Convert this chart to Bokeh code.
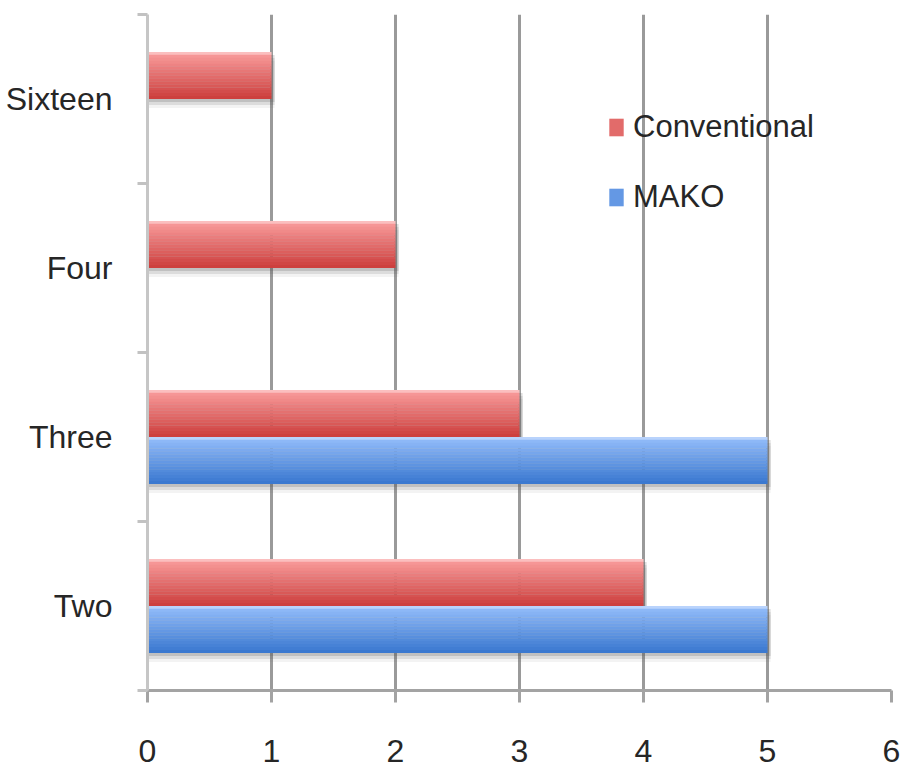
from bokeh.plotting import figure
from bokeh.models import FixedTicker, Legend, LegendItem, Range1d
from bokeh.embed import file_html
from bokeh.resources import INLINE
import numpy as np

# Counts per group size, bottom to top on the chart
categories = ["Two", "Three", "Four", "Sixteen"]
conventional = [4, 3, 2, 1]
mako = [5, 5, 0, 0]
x_ticks = [0, 1, 2, 3, 4, 5, 6]

FONT = "Liberation Sans"
TEXT_COLOR = "#262626"

BAR_H = 0.278          # bar thickness in category units
N_SLICES = 16          # slices used for the vertical shading of each bar


def lerp_hex(c0, c1, t):
    a = np.array([int(c0[i:i + 2], 16) for i in (1, 3, 5)], dtype=float)
    b = np.array([int(c1[i:i + 2], 16) for i in (1, 3, 5)], dtype=float)
    c = np.round(a + (b - a) * t).astype(int)
    return "#%02x%02x%02x" % tuple(c)


p = figure(width=902, height=771,
           x_range=Range1d(0, 6), y_range=Range1d(0, 4),
           output_backend="svg", toolbar_location=None,
           min_border_left=147, min_border_right=11,
           min_border_top=14, min_border_bottom=81)
p.outline_line_color = None
p.background_fill_color = "white"
p.border_fill_color = "white"

# vertical gridlines
p.ygrid.visible = False
p.xgrid.ticker = FixedTicker(ticks=x_ticks[1:])
p.xgrid.grid_line_color = "#9a9a9a"
p.xgrid.grid_line_width = 3

centers = np.arange(len(categories)) + 0.5
conv = np.array(conventional, dtype=float)
mk = np.array(mako, dtype=float)

series = [
    # values, offset of bar centre from category centre, top colour, bottom colour
    (conv, +BAR_H / 2, "#f99c9c", "#cd403e"),
    (mk, -BAR_H / 2, "#93bcfa", "#3b79d0"),
]

# soft drop shadows under the bars
px_y = 4.0 / 676.0   # one pixel in y data units
for vals, off, _, _ in series:
    ext = np.where(vals > 0, vals + 0.025, 0.0)
    for k, a in [(3, 0.20), (6, 0.14), (9, 0.07)]:
        p.hbar(y=centers + off - k * px_y, right=ext, left=0,
               height=BAR_H, fill_color="#555555", fill_alpha=a, line_color=None)

legend_renderers = []
for vals, off, c_top, c_bot in series:
    slice_h = BAR_H / N_SLICES
    mid = None
    for k in range(N_SLICES):
        t = k / (N_SLICES - 1)
        col = lerp_hex(c_top, c_bot, t)
        if k == 0:
            col = lerp_hex(col, "#ffffff", 0.35)
        y_slice = centers + off + BAR_H / 2 - (k + 0.5) * slice_h
        r = p.hbar(y=y_slice, right=vals, left=0, height=slice_h * 1.08,
                   fill_color=col, line_color=None)
        if k == N_SLICES // 2:
            mid = r
    legend_renderers.append(mid)

# x axis
xa = p.xaxis[0]
xa.ticker = FixedTicker(ticks=x_ticks)
xa.axis_line_color = "#a3a3a3"
xa.axis_line_width = 3
xa.major_tick_line_color = "#a3a3a3"
xa.major_tick_line_width = 3
xa.major_tick_out = 12
xa.major_tick_in = 0
xa.minor_tick_line_color = None
xa.major_label_text_font = FONT
xa.major_label_text_font_size = "32px"
xa.major_label_text_color = TEXT_COLOR
xa.major_label_standoff = 37

# y axis: labels at category centres, tick marks at category boundaries
ya = p.yaxis[0]
ya.ticker = FixedTicker(ticks=list(centers), minor_ticks=list(np.arange(len(categories) + 1)))
ya.major_label_overrides = {float(c): name for c, name in zip(centers, categories)}
ya.axis_line_color = "#c6c6c6"
ya.axis_line_width = 3
ya.major_tick_line_color = None
ya.major_tick_out = 0
ya.major_tick_in = 0
ya.minor_tick_line_color = "#c2c2c2"
ya.minor_tick_line_width = 3
ya.minor_tick_out = 10
ya.minor_tick_in = 0
ya.major_label_text_font = FONT
ya.major_label_text_font_size = "32px"
ya.major_label_text_color = TEXT_COLOR
ya.major_label_standoff = 25

legend = Legend(
    items=[LegendItem(label="Conventional", renderers=[legend_renderers[0]]),
           LegendItem(label="MAKO", renderers=[legend_renderers[1]])],
    location=(460, 475),
    orientation="vertical",
    border_line_color=None,
    background_fill_alpha=0,
    padding=0, margin=0, spacing=34,
    glyph_width=18, glyph_height=22, label_height=22,
    label_standoff=8,
    label_text_font=FONT, label_text_font_size="31px",
    label_text_color=TEXT_COLOR,
)
p.add_layout(legend)

open("out.html", "w").write(file_html(p, INLINE))
